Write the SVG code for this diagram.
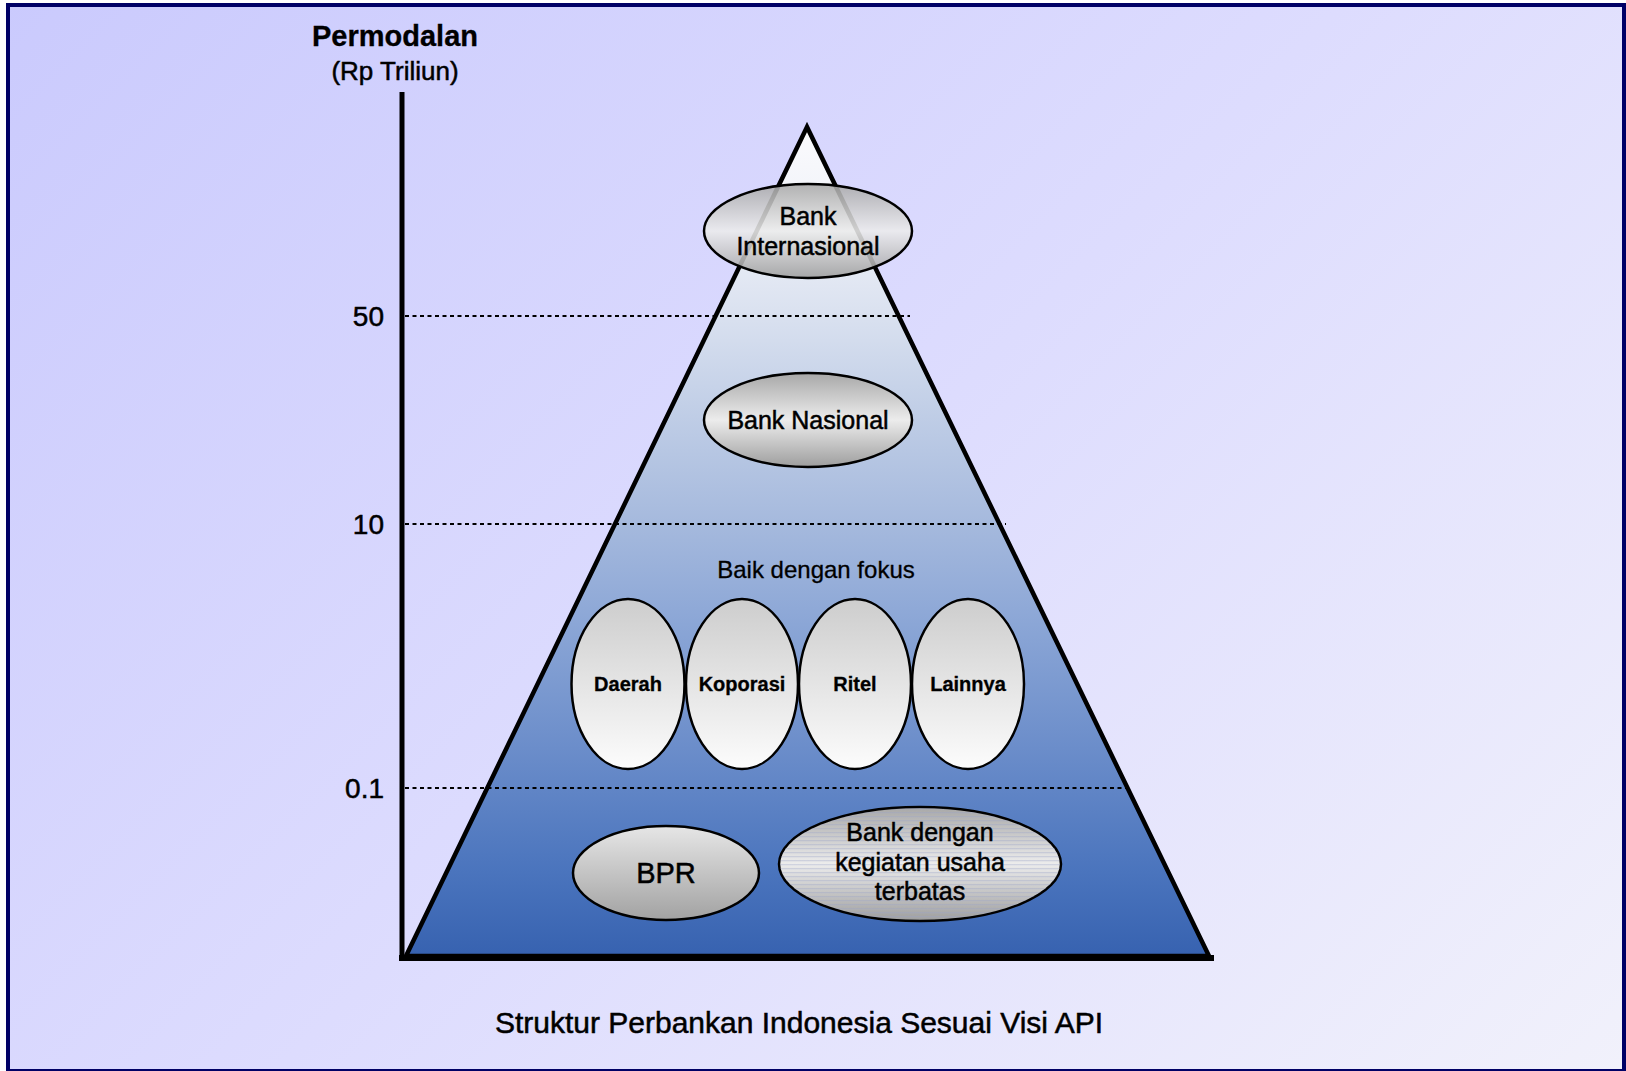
<svg xmlns="http://www.w3.org/2000/svg" width="1626" height="1071" viewBox="0 0 1626 1071">
<defs>
  <linearGradient id="bg" x1="0" y1="0" x2="1348" y2="1348" gradientUnits="userSpaceOnUse">
    <stop offset="0" stop-color="#cacafd"/>
    <stop offset="0.5" stop-color="#dddcfe"/>
    <stop offset="1" stop-color="#f1f1fb"/>
  </linearGradient>
  <linearGradient id="pyr" x1="0" y1="127" x2="0" y2="956" gradientUnits="userSpaceOnUse">
    <stop offset="0" stop-color="#fbfbfd"/>
    <stop offset="0.12" stop-color="#eef1f8"/>
    <stop offset="0.22" stop-color="#dbe2f0"/>
    <stop offset="0.35" stop-color="#bfcde6"/>
    <stop offset="0.48" stop-color="#a5b9dd"/>
    <stop offset="0.6" stop-color="#8ba6d6"/>
    <stop offset="0.75" stop-color="#6b8dca"/>
    <stop offset="0.9" stop-color="#4a74bd"/>
    <stop offset="1" stop-color="#3762b0"/>
  </linearGradient>
  <linearGradient id="grayMid" x1="0" y1="0" x2="0" y2="1">
    <stop offset="0" stop-color="#a8a8a8"/>
    <stop offset="0.5" stop-color="#ececec"/>
    <stop offset="1" stop-color="#9e9e9e"/>
  </linearGradient>
  <linearGradient id="grayUp" x1="0" y1="0" x2="0" y2="1">
    <stop offset="0" stop-color="#cdcdcd"/>
    <stop offset="1" stop-color="#fcfcfc"/>
  </linearGradient>
  <linearGradient id="grayDown" x1="0" y1="0" x2="0" y2="1">
    <stop offset="0" stop-color="#e6e6e6"/>
    <stop offset="1" stop-color="#a2a2a2"/>
  </linearGradient>
  <pattern id="stripes" x="0" y="0" width="8" height="4" patternUnits="userSpaceOnUse">
    <rect x="0" y="0" width="8" height="1.3" fill="#9aa4c8" opacity="0.35"/>
  </pattern>
  <style>
    .t { font-family: "Liberation Sans", Arial, sans-serif; fill: #000; stroke: #000; stroke-width: 0.5; text-anchor: middle; }
    .b { font-weight: bold; stroke-width: 0.3; }
    .r { text-anchor: end; }
    .node { stroke: #000; stroke-width: 2.5; }
    .grid { stroke: #000; stroke-width: 2.2; stroke-dasharray: 4 3.5; fill: none; }
  </style>
</defs>

<rect x="0" y="0" width="1626" height="1071" fill="#ffffff"/>
<rect x="6" y="3" width="1620" height="1068" fill="#000066"/>
<rect x="10" y="7" width="1612" height="1062" fill="url(#bg)"/>

<g id="axis-title">
  <text class="t b" x="395" y="46" font-size="29">Permodalan</text>
  <text class="t" x="395" y="80" font-size="26">(Rp Triliun)</text>
</g>

<g id="pyramid">
  <polygon points="807,127 406,956 1209,956" fill="url(#pyr)" stroke="#000" stroke-width="4.5" stroke-linejoin="miter"/>
</g>

<g id="connectors">
  <line class="grid" x1="405" y1="316" x2="910" y2="316"/>
  <line class="grid" x1="405" y1="524" x2="1006" y2="524"/>
  <line class="grid" x1="405" y1="788" x2="1131" y2="788"/>
  <line x1="402" y1="92" x2="402" y2="961" stroke="#000" stroke-width="5"/>
  <line x1="399" y1="958" x2="1214" y2="958" stroke="#000" stroke-width="6"/>
</g>

<g id="ticks">
  <text class="t r" x="384" y="326" font-size="28">50</text>
  <text class="t r" x="384" y="534" font-size="28">10</text>
  <text class="t r" x="384" y="798" font-size="28">0.1</text>
</g>

<g id="bank-internasional">
  <ellipse class="node" cx="808" cy="231" rx="104" ry="47" fill="url(#grayMid)" fill-opacity="0.88"/>
  <text class="t" x="808" y="225" font-size="25">Bank</text>
  <text class="t" x="808" y="255" font-size="25">Internasional</text>
</g>

<g id="bank-nasional">
  <ellipse class="node" cx="808" cy="420" rx="104" ry="47" fill="url(#grayMid)"/>
  <text class="t" x="808" y="429" font-size="25">Bank Nasional</text>
</g>

<g id="fokus-label">
  <text class="t" x="816" y="578" font-size="24" style="stroke-width:0.3">Baik dengan fokus</text>
</g>

<g id="daerah">
  <ellipse class="node" cx="628" cy="684" rx="56.5" ry="85" fill="url(#grayUp)"/>
  <text class="t b" x="628" y="691" font-size="20">Daerah</text>
</g>
<g id="koporasi">
  <ellipse class="node" cx="742" cy="684" rx="56" ry="85" fill="url(#grayUp)"/>
  <text class="t b" x="742" y="691" font-size="20">Koporasi</text>
</g>
<g id="ritel">
  <ellipse class="node" cx="855" cy="684" rx="56" ry="85" fill="url(#grayUp)"/>
  <text class="t b" x="855" y="691" font-size="20">Ritel</text>
</g>
<g id="lainnya">
  <ellipse class="node" cx="968" cy="684" rx="56" ry="85" fill="url(#grayUp)"/>
  <text class="t b" x="968" y="691" font-size="20">Lainnya</text>
</g>

<g id="bpr">
  <ellipse class="node" cx="666" cy="873" rx="93" ry="47" fill="url(#grayDown)"/>
  <text class="t" x="666" y="883" font-size="29">BPR</text>
</g>

<g id="bank-terbatas">
  <ellipse class="node" cx="920" cy="864" rx="141" ry="57" fill="url(#grayMid)"/>
  <ellipse cx="920" cy="864" rx="140" ry="56" fill="url(#stripes)"/>
  <text class="t" x="920" y="841" font-size="25">Bank dengan</text>
  <text class="t" x="920" y="871" font-size="25">kegiatan usaha</text>
  <text class="t" x="920" y="900" font-size="25">terbatas</text>
</g>

<g id="caption">
  <text class="t" x="799" y="1033" font-size="30">Struktur Perbankan Indonesia Sesuai Visi API</text>
</g>
</svg>
